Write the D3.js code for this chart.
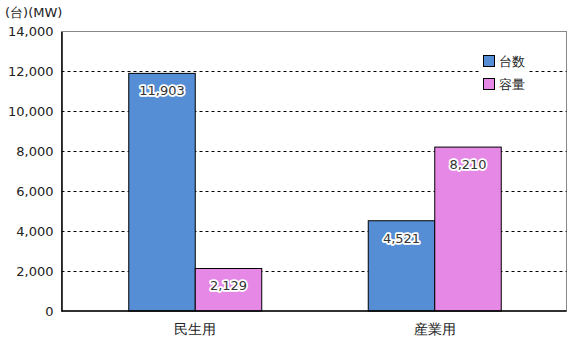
<!DOCTYPE html>
<html>
<head>
<meta charset="utf-8">
<script src="https://cdn.jsdelivr.net/npm/d3@7"></script>
<style>
  html, body { margin: 0; padding: 0; background: #fff; }
  svg text { font-family: "DejaVu Sans", Verdana, sans-serif; }
</style>
</head>
<body>
<svg id="chart" width="574" height="337"></svg>
<script>
const categories = ["民生用", "産業用"];
const seriesNames = ["台数", "容量"];
const unitsValues = [11903, 4521];     // 台数
const capacityValues = [2129, 8210];   // 容量 (MW)
const yTicks = [0, 2000, 4000, 6000, 8000, 10000, 12000, 14000];
const seriesColors = ["#558ED5", "#E688E6"];

const svg = d3.select("#chart");
const plot = { left: 61.5, right: 566.5, top: 31.5, bottom: 311 };

const y = d3.scaleLinear().domain([0, 14000]).range([plot.bottom, plot.top]);
const x0 = d3.scaleBand().domain(categories).range([75.5, 554.5]);
const barW = 66.5;
const x1 = d3.scaleBand().domain(seriesNames)
  .range([x0.bandwidth() / 2 - barW, x0.bandwidth() / 2 + barW]);

// plot frame (top/right in grey)
svg.append("rect")
  .attr("x", plot.left).attr("y", plot.top)
  .attr("width", plot.right - plot.left).attr("height", plot.bottom - plot.top)
  .attr("fill", "#fff").attr("stroke", "#888").attr("stroke-width", 1);

// dashed gridlines
svg.append("g").selectAll("line")
  .data(yTicks.filter(t => t > 0 && t < 14000))
  .join("line")
  .attr("x1", plot.left).attr("x2", plot.right)
  .attr("y1", d => Math.round(y(d)) + 0.5).attr("y2", d => Math.round(y(d)) + 0.5)
  .attr("stroke", "#000").attr("stroke-width", 1).attr("stroke-dasharray", "3,3");

// y axis
const yAxis = d3.axisLeft(y).tickValues(yTicks).tickSize(0).tickPadding(8)
  .tickFormat(d3.format(","));
const gy = svg.append("g").attr("transform", `translate(${plot.left},0)`).call(yAxis);
gy.select(".domain").attr("stroke", "#000").attr("stroke-width", 1.5);
gy.selectAll("text").attr("font-size", 13).attr("fill", "#222")
  .attr("font-family", "DejaVu Sans, Verdana, sans-serif");

// bars
const rows = categories.map((c, i) => ({ cat: c, vals: [unitsValues[i], capacityValues[i]] }));
const groups = svg.append("g").selectAll("g").data(rows).join("g")
  .attr("transform", d => `translate(${x0(d.cat)},0)`);

const cells = groups.selectAll("g").data(d => d.vals.map((v, j) => ({ s: seriesNames[j], v, j })))
  .join("g");

cells.append("rect")
  .attr("x", d => x1(d.s)).attr("width", x1.bandwidth())
  .attr("y", d => y(d.v)).attr("height", d => y(0) - y(d.v))
  .attr("fill", d => seriesColors[d.j]).attr("stroke", "#000").attr("stroke-width", 1);

// value labels with white halo
cells.append("text")
  .attr("x", d => x1(d.s) + x1.bandwidth() / 2)
  .attr("y", d => y(d.v) + 22)
  .attr("text-anchor", "middle").attr("font-size", 13)
  .attr("fill", "#333").attr("stroke", "#fff").attr("stroke-width", 3.5)
  .attr("stroke-linejoin", "round").attr("paint-order", "stroke")
  .text(d => d3.format(",")(d.v));

// x axis baseline
svg.append("line")
  .attr("x1", plot.left).attr("x2", plot.right)
  .attr("y1", plot.bottom).attr("y2", plot.bottom)
  .attr("stroke", "#000").attr("stroke-width", 1.5);

// category labels
svg.append("g").selectAll("text").data(categories).join("text")
  .attr("x", d => x0(d) + x0.bandwidth() / 2)
  .attr("y", 334)
  .attr("text-anchor", "middle").attr("font-size", 14).attr("fill", "#222")
  .text(d => d);

// units
svg.append("text").attr("x", 5).attr("y", 17).attr("font-size", 13).attr("fill", "#222")
  .text("(台)(MW)");

// legend
const legend = svg.append("g").attr("transform", "translate(479,50)");
legend.append("rect").attr("width", 49).attr("height", 44).attr("fill", "#fff");
const li = legend.selectAll("g").data(seriesNames).join("g")
  .attr("transform", (d, i) => `translate(4.5,${5.5 + i * 23})`);
li.append("rect").attr("width", 11).attr("height", 11)
  .attr("fill", (d, i) => seriesColors[i]).attr("stroke", "#000").attr("stroke-width", 1);
li.append("text").attr("x", 15.5).attr("y", 10.5).attr("font-size", 13).attr("fill", "#222")
  .text(d => d);
</script>
</body>
</html>
